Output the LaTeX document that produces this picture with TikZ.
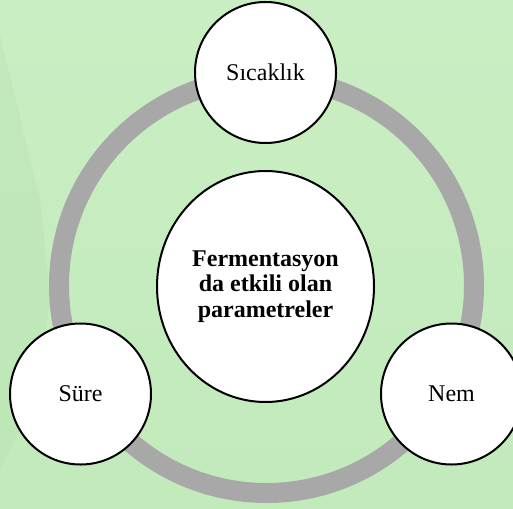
\documentclass[tikz,border=0pt]{standalone}
\usepackage{fontspec}
\setmainfont{Liberation Serif}
\usetikzlibrary{shapes.geometric}
\definecolor{bgtop}{HTML}{C9EEC3}
\definecolor{bgbottom}{HTML}{C2EABB}
\definecolor{bgdark}{HTML}{B9E3B1}
\definecolor{ringgrey}{HTML}{A8A8A8}
\tikzset{
  param/.style={circle, draw=black, line width=2pt, fill=white,
    minimum size=141pt, inner sep=0pt,
    font=\fontsize{24}{25.5}\selectfont},
  hub/.style={ellipse, draw=black, line width=2pt, fill=white,
    minimum width=217pt, minimum height=231pt, inner sep=0pt, align=center,
    font=\fontsize{24}{25.5}\selectfont\bfseries},
  ring/.style={draw=ringgrey, line width=20pt}
}
\begin{document}
\begin{tikzpicture}[x=1pt, y=-1pt]
  % background
  \useasboundingbox (0,0) rectangle (513,508);
  \shade[top color=bgtop, bottom color=bgbottom] (0,0) rectangle (513,508);
  \fill[bgdark, opacity=0.45] (0,35) -- (40,200) -- (50,300) -- (35,400) -- (0,470) -- cycle;
  % surrounding ring
  \draw[ring] (266.5,285.5) circle (207.5);
  % central node
  \node[hub] (hub) at (265.5,286.5) {Fermentasyon\\da etkili olan\\parametreler};
  % parameter nodes on the ring
  \node[param] (sicaklik) at (265.5,72.5) {Sıcaklık};
  \node[param] (sure) at (80.5,394) {Süre};
  \node[param] (nem) at (451.5,394) {Nem};
\end{tikzpicture}
\end{document}
